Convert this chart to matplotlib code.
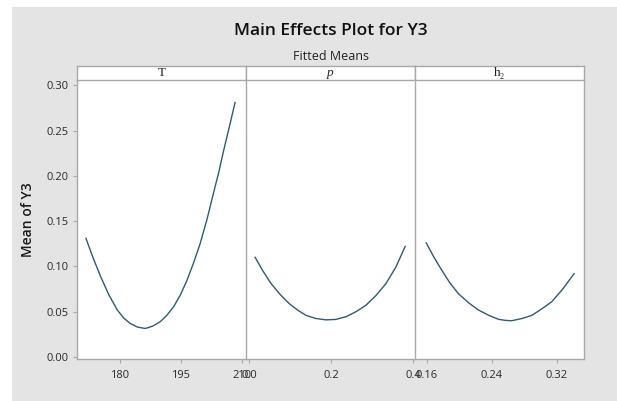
import matplotlib
matplotlib.use("Agg")
import matplotlib.pyplot as plt
from matplotlib.patches import Rectangle

# values
t_vals = [171.6, 173.4, 175.2, 177.2, 179.3, 180.9, 182.5, 184.3, 186.2, 188.0, 189.9, 191.5,
          193.2, 194.9, 196.5, 198.1, 199.7, 201.4, 203.0, 204.3, 205.5, 206.9, 208.3]
t_means = [0.131, 0.109, 0.089, 0.069, 0.052, 0.043, 0.037, 0.033, 0.0315, 0.034, 0.039, 0.046,
           0.0556, 0.069, 0.085, 0.104, 0.125, 0.152, 0.181, 0.204, 0.228, 0.254, 0.281]

p_vals = [0.015, 0.034, 0.054, 0.076, 0.098, 0.118, 0.139, 0.163, 0.188, 0.212, 0.237, 0.261,
          0.285, 0.310, 0.334, 0.358, 0.381]
p_means = [0.110, 0.095, 0.081, 0.069, 0.059, 0.052, 0.046, 0.0425, 0.041, 0.0415, 0.0445, 0.050,
           0.057, 0.068, 0.081, 0.099, 0.122]

h_vals = [0.159, 0.168, 0.178, 0.188, 0.1985, 0.211, 0.223, 0.236, 0.248, 0.256, 0.264, 0.277,
          0.289, 0.301, 0.3135, 0.327, 0.341]
h_means = [0.126, 0.111, 0.096, 0.082, 0.070, 0.060, 0.052, 0.046, 0.0416, 0.0405, 0.040, 0.0425,
           0.046, 0.053, 0.061, 0.075, 0.092]

panel_names = ["T", "p", "h\u2082"]
x_ticks = [[180, 195, 210], [0.0, 0.2, 0.4], [0.16, 0.24, 0.32]]
x_ticklabels = [["180", "195", "210"], ["0.0", "0.2", "0.4"], ["0.16", "0.24", "0.32"]]
x_limits = [(169.4, 211.0), (-0.0073, 0.405), (0.1452, 0.3532)]
y_ticks = [0.00, 0.05, 0.10, 0.15, 0.20, 0.25, 0.30]

plt.rcParams["font.family"] = ["Open Sans", "DejaVu Sans"]

W, H = 617, 401
fig = plt.figure(figsize=(W / 100, H / 100), dpi=100)
fig.patch.set_facecolor("white")
fig.patches.append(Rectangle((12 / W, 0), 1 - 12 / W, 1 - 7 / H, transform=fig.transFigure,
                             facecolor="#e4e4e4", edgecolor="none", zorder=-10))

edge = "#a8a8a8"
line_col = "#2f5b70"
left, right = 77 / W, 584 / W
bottom, top = 1 - 359 / H, 1 - 80 / H
strip_top = 1 - 66 / H
pw = (right - left) / 3

series = [(t_vals, t_means), (p_vals, p_means), (h_vals, h_means)]
for i, (xs, ys) in enumerate(series):
    ax = fig.add_axes([left + i * pw, bottom, pw, top - bottom])
    ax.plot(xs, ys, color=line_col, lw=1.0)
    ax.set_xlim(*x_limits[i])
    ax.set_ylim(-0.0022, 0.3058)
    ax.set_xticks(x_ticks[i])
    ax.set_xticklabels(x_ticklabels[i])
    ax.set_yticks(y_ticks)
    for s in ax.spines.values():
        s.set_color(edge)
        s.set_linewidth(1.0)
    ax.spines["top"].set_visible(False)
    if i < 2:
        ax.spines["right"].set_visible(False)
    ax.tick_params(colors=edge, labelcolor="#2a2a2a", labelsize=8, length=3, width=0.8,
                   pad=3)
    ax.tick_params(axis="x", pad=5)
    if i == 0:
        ax.set_yticklabels([f"{v:.2f}" for v in y_ticks])
        ax.set_ylabel("Mean of Y3", fontsize=10, fontweight=600, color="#1a1a1a", labelpad=8)
    else:
        ax.tick_params(axis="y", left=False, labelleft=False)

    sx = fig.add_axes([left + i * pw, top, pw, strip_top - top])
    sx.set_xticks([])
    sx.set_yticks([])
    sx.set_facecolor("white")
    for s in sx.spines.values():
        s.set_color(edge)
        s.set_linewidth(1.0)
    sx.text(0.5, 0.5, panel_names[i], ha="center", va="center", fontsize=9.5,
            family=["Liberation Serif", "DejaVu Serif"],
            style="italic" if panel_names[i] == "p" else "normal", color="#222222")

fig.text(0.536, 1 - 31 / H, "Main Effects Plot for Y3", ha="center", va="center",
         fontsize=12.5, fontweight=600, color="#111111")
fig.text(0.536, 1 - 56 / H, "Fitted Means", ha="center", va="center",
         fontsize=9, fontweight=500, color="#222222")

fig.savefig("out.png", dpi=100)
